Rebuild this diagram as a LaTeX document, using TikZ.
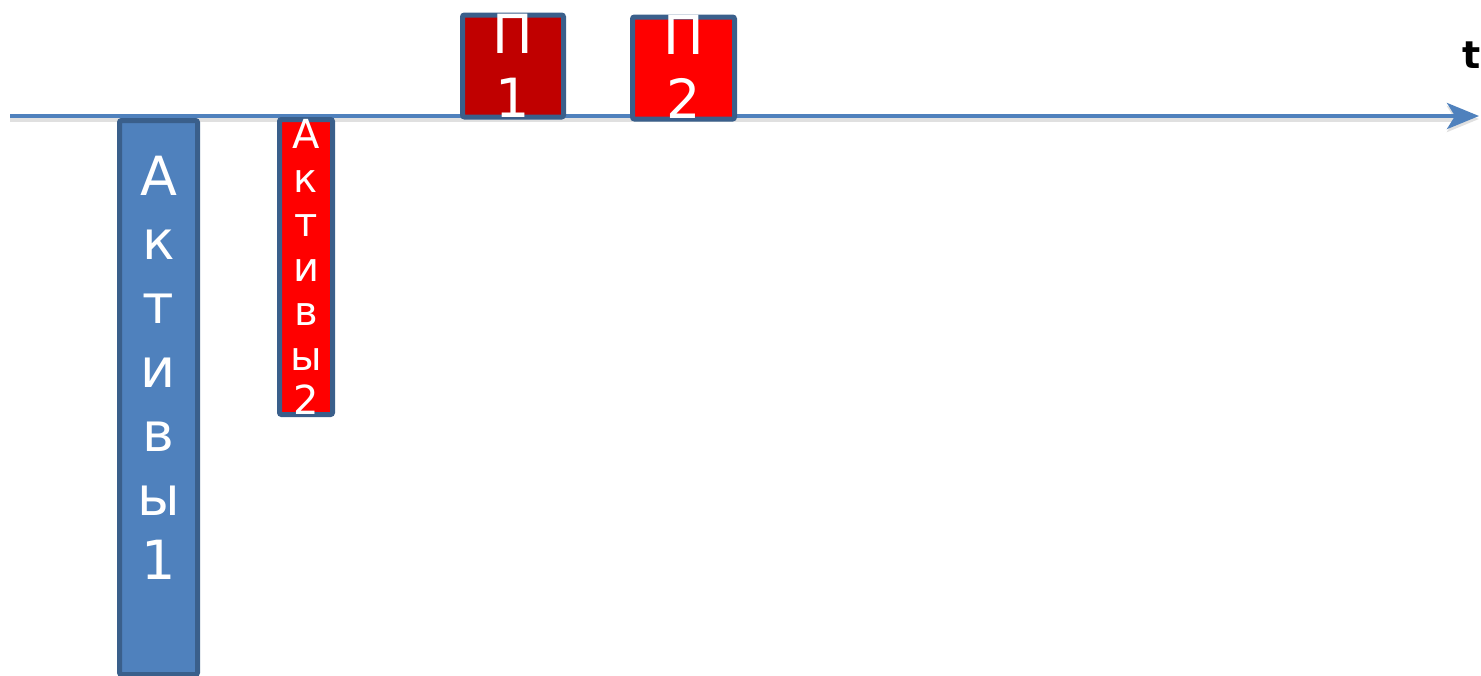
\documentclass[tikz,border=0pt]{standalone}
\usepackage{fontspec}
\setmainfont{DejaVu Sans}
\usetikzlibrary{arrows.meta}
\definecolor{axisblue}{HTML}{4F81BD}
\definecolor{edgeblue}{HTML}{3A5F8B}
\definecolor{darkred}{HTML}{C00000}

\begin{document}
\begin{tikzpicture}[x=0.5pt,y=-0.5pt,>={Stealth[length=16pt,width=13pt,inset=4pt]},
    every node/.style={text=white, align=center, inner sep=0pt},
    bar/.style={draw=edgeblue, line width=2.5pt, rounded corners=1pt},
    big/.style={font=\fontsize{27}{32}\selectfont},
    small/.style={font=\fontsize{20}{22.2}\selectfont}]
    \useasboundingbox (0,0) rectangle (1481,675);
    \coordinate (start) at (10,116);
    \coordinate (end) at (1479,116);
    \draw[->, black!12, line width=2.5pt, transform canvas={yshift=-1.5pt}] (start) -- (end);
    \draw[->, axisblue, line width=2pt] (start) -- (end);
    \node[text=black, font=\bfseries\fontsize{19}{22}\selectfont, anchor=base east] (t) at (1481,68) {t};

    \node[bar, big, fill=axisblue, minimum width=39pt, minimum height=277pt, text height=212.5pt, text depth=31pt] (a1) at (158.5,397.5) {А\\к\\т\\и\\в\\ы\\1};
    \node[bar, small, fill=red, minimum width=26.5pt, minimum height=147.5pt, text height=147.5pt, text depth=0pt] (a2) at (306,267) {А\\к\\т\\и\\в\\ы\\2};

    \node[bar, big, fill=darkred, minimum width=50.5pt, minimum height=51pt, text height=51pt, text depth=0pt] (p1) at (513,66) {П\\1};
    \node[bar, big, fill=red, minimum width=51pt, minimum height=51pt, text height=50.5pt, text depth=0pt] (p2) at (683.5,68) {П\\2};
\end{tikzpicture}
\end{document}
